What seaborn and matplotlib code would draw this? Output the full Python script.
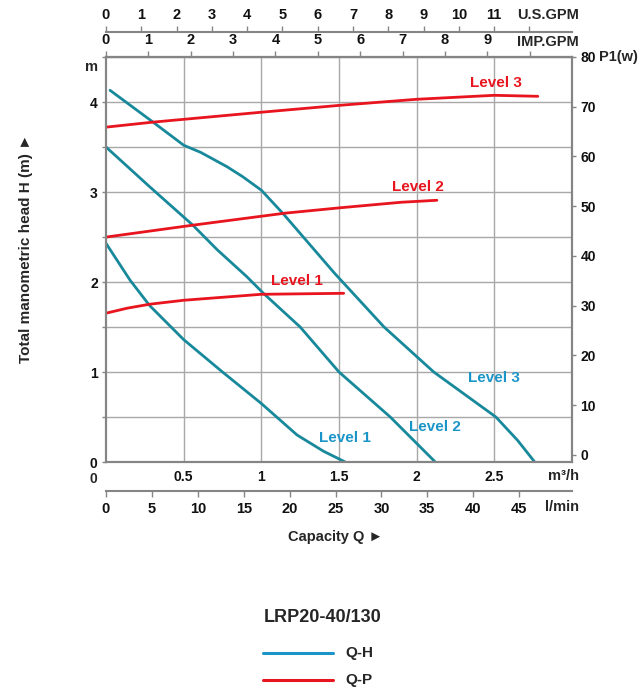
import matplotlib
matplotlib.use("Agg")
import matplotlib.pyplot as plt
from matplotlib.lines import Line2D
from matplotlib.ticker import FixedLocator, MultipleLocator
import seaborn as sns

# ---------------- data ----------------
# Q-H curves: capacity in m3/h, head in m
qh1_q = [0.0, 0.155, 0.28, 0.50, 0.75, 1.00, 1.23, 1.40, 1.54]
qh1_h = [2.43, 2.02, 1.74, 1.36, 1.00, 0.65, 0.30, 0.12, 0.0]
qh2_q = [0.0, 0.28, 0.56, 0.715, 0.906, 1.01, 1.25, 1.50, 1.83, 2.12]
qh2_h = [3.50, 3.06, 2.63, 2.36, 2.06, 1.88, 1.50, 1.00, 0.50, 0.0]
qh3_q = [0.026, 0.30, 0.50, 0.61, 0.78, 0.88, 1.00, 1.14, 1.27, 1.47, 1.79, 2.11, 2.51, 2.65, 2.76]
qh3_h = [4.13, 3.78, 3.52, 3.44, 3.28, 3.17, 3.02, 2.76, 2.50, 2.10, 1.50, 1.00, 0.50, 0.24, 0.0]

# Q-P curves: capacity in m3/h, power P1 in W
qp1_q = [0.0, 0.135, 0.28, 0.50, 1.00, 1.53]
qp1_p = [28.5, 29.5, 30.3, 31.1, 32.3, 32.5]
qp2_q = [0.0, 0.56, 1.15, 1.51, 1.90, 2.13]
qp2_p = [43.8, 46.2, 48.6, 49.7, 50.8, 51.2]
qp3_q = [0.0, 0.30, 1.00, 1.51, 2.00, 2.50, 2.78]
qp3_p = [65.9, 66.9, 68.9, 70.3, 71.5, 72.3, 72.1]

level_names = ["Level 1", "Level 2", "Level 3"]

m3h_ticks = [0.5, 1, 1.5, 2, 2.5]
m3h_labels = ["0.5", "1", "1.5", "2", "2.5"]
lmin_ticks = list(range(0, 50, 5))
imp_ticks = list(range(0, 12))
imp_labels = [str(i) for i in range(10)] + ["", ""]
us_ticks = list(range(0, 13))
us_labels = [str(i) for i in range(12)] + [""]
h_ticks = [0, 1, 2, 3, 4]
p_ticks = list(range(0, 81, 10))

model_name = "LRP20-40/130"
legend_names = ["Q-H", "Q-P"]

# ---------------- style ----------------
sns.set_theme(style="white")
plt.rcParams["font.family"] = ["Liberation Sans", "DejaVu Sans"]
plt.rcParams["font.weight"] = "bold"
plt.rcParams["axes.labelweight"] = "bold"

TEAL = "#17899b"
RED = "#e8141e"
BLUE = "#1b95c8"
GRAY = "#858585"
GRID = "#a8a8a8"

W, H = 642, 688
fig = plt.figure(figsize=(W / 100, H / 100), dpi=100)
L, R, B, T = 106, 572, 462, 57
ax = fig.add_axes([L / W, 1 - B / H, (R - L) / W, (B - T) / H])
ax.set_facecolor("white")
ax2 = ax.twinx()


def fx(x):
    return x / W


def fy(y):
    return 1 - y / H


# ---------------- curves ----------------
for q, h in [(qh1_q, qh1_h), (qh2_q, qh2_h), (qh3_q, qh3_h)]:
    sns.lineplot(x=q, y=h, ax=ax, color=TEAL, lw=2.0, sort=False,
                 estimator=None, legend=False)
for q, p in [(qp1_q, qp1_p), (qp2_q, qp2_p), (qp3_q, qp3_p)]:
    sns.lineplot(x=q, y=p, ax=ax2, color=RED, lw=2.0, sort=False,
                 estimator=None, legend=False)

# ---------------- main axes ----------------
ax.set_xlim(0, 3.0)
ax.set_ylim(0, 4.5)
ax2.set_ylim(-1.41, 80)
ax.set_xlabel("")
ax.set_ylabel("")
ax2.set_ylabel("")

ax.xaxis.set_major_locator(FixedLocator(m3h_ticks))
ax.set_xticklabels(m3h_labels)
ax.yaxis.set_major_locator(FixedLocator(h_ticks))
ax.yaxis.set_minor_locator(MultipleLocator(0.5))
ax.grid(True, which="both", color=GRID, lw=1.0)
ax.set_axisbelow(True)

ax.tick_params(axis="x", direction="out", length=3, width=1, color=GRAY,
               labelsize=10, pad=3, labelcolor="#111111")
ax.tick_params(axis="y", which="both", direction="out", length=3, width=1,
               color=GRAY, labelsize=10, pad=3, labelcolor="#111111")

ax2.set_yticks(p_ticks)
ax2.grid(False)
ax2.tick_params(axis="y", direction="out", length=3, width=1, color=GRAY,
                labelsize=10, pad=3, labelcolor="#111111")

for a in (ax, ax2):
    for s in a.spines.values():
        s.set_color(GRAY)
        s.set_linewidth(1.5)

# ---------------- secondary capacity scales ----------------
IMP = 0.27277   # m3/h per imperial gpm
USG = 0.22712   # m3/h per US gpm
LMN = 0.0591    # m3/h per l/min as drawn

imp = ax.secondary_xaxis("top", functions=(lambda q: q / IMP, lambda g: g * IMP))
imp.set_xticks(imp_ticks)
imp.set_xticklabels(imp_labels)
imp.tick_params(direction="out", length=4, width=1, color=GRAY, labelsize=10.5,
                pad=3, labelcolor="#111111")

us = ax.secondary_xaxis((B - 32) / (B - T),
                        functions=(lambda q: q / USG, lambda g: g * USG))
us.set_xticks(us_ticks)
us.set_xticklabels(us_labels)
us.tick_params(direction="out", length=4, width=1, color=GRAY, labelsize=10.5,
               pad=3, labelcolor="#111111")

lmin = ax.secondary_xaxis(-(491 - B) / (B - T),
                          functions=(lambda q: q / LMN, lambda l: l * LMN))
lmin.set_xticks(lmin_ticks)
lmin.set_xticklabels([str(v) for v in lmin_ticks])
lmin.tick_params(direction="out", length=4, width=1, color=GRAY, labelsize=10.5,
                 pad=4, labelcolor="#111111")

for sec in (imp, us, lmin):
    for s in sec.spines.values():
        s.set_color(GRAY)
        s.set_linewidth(1.5)

# ---------------- curve labels ----------------
ax.text(1.54, 0.27, level_names[0], color=BLUE, fontsize=11, weight="bold",
        ha="center", va="center")
ax.text(2.12, 0.39, level_names[1], color=BLUE, fontsize=11, weight="bold",
        ha="center", va="center")
ax.text(2.50, 0.93, level_names[2], color=BLUE, fontsize=11, weight="bold",
        ha="center", va="center")
ax2.text(1.23, 34.9, level_names[0], color=RED, fontsize=11, weight="bold",
         ha="center", va="center")
ax2.text(2.01, 53.8, level_names[1], color=RED, fontsize=11, weight="bold",
         ha="center", va="center")
ax2.text(2.51, 74.7, level_names[2], color=RED, fontsize=11, weight="bold",
         ha="center", va="center")

# ---------------- axis texts ----------------
fig.text(fx(579), fy(15), "U.S.GPM", ha="right", va="center", fontsize=10.5, weight="bold")
fig.text(fx(579), fy(42), "IMP.GPM", ha="right", va="center", fontsize=10.5, weight="bold")
fig.text(fx(579), fy(476), "m³/h", ha="right", va="center", fontsize=10.5, weight="bold")
fig.text(fx(579), fy(507), "l/min", ha="right", va="center", fontsize=10.5, weight="bold")
fig.text(fx(93), fy(479), "0", ha="center", va="center", fontsize=10, weight="bold")
fig.text(fx(92), fy(67), "m", ha="center", va="center", fontsize=10.5, weight="bold")
fig.text(fx(599), fy(57), "P1(w)", ha="left", va="center", fontsize=10.5, weight="bold")
fig.text(fx(336), fy(537), "Capacity Q ►", ha="center", va="center", fontsize=10.5,
         weight="bold")
fig.text(fx(26), fy(248), "Total manometric head H (m) ►", rotation=90, ha="center",
         va="center", fontsize=11, weight="bold")

# ---------------- legend ----------------
fig.text(fx(323), fy(618), model_name, ha="center", va="center", fontsize=13, weight="bold")
for y, c, name in [(653, BLUE, legend_names[0]), (680, RED, legend_names[1])]:
    fig.add_artist(Line2D([fx(263), fx(333)], [fy(y), fy(y)], transform=fig.transFigure,
                          color=c, lw=2.2))
    fig.text(fx(345), fy(y), name, ha="left", va="center", fontsize=11, weight="bold")

fig.savefig("out.png", dpi=100, facecolor="white")
